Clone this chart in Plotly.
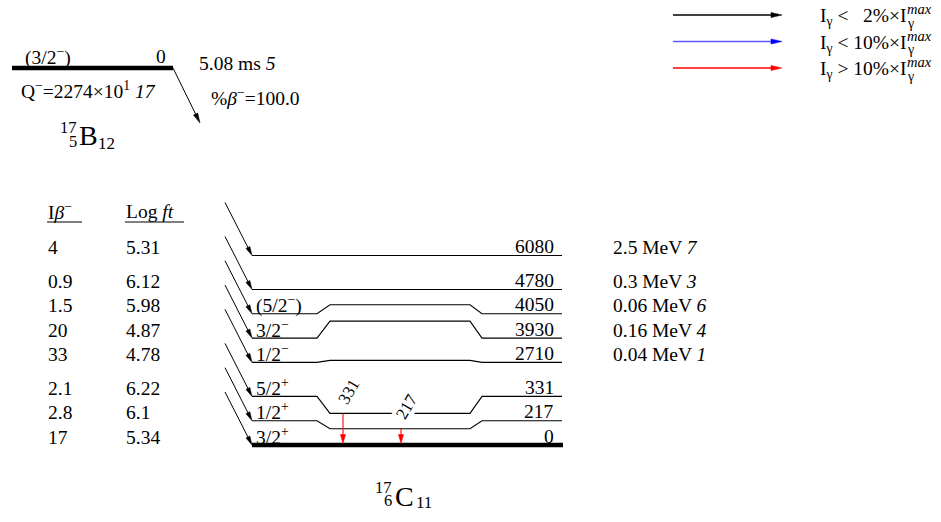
import math
import plotly.graph_objects as go

# ---------------- data ----------------
parent_prescript = ("17", "5")
parent_symbol = "B"
parent_neutrons = "12"
parent_spin = "(3/2<sup>−</sup>)"
parent_energy = "0"
parent_halflife = "5.08 ms <i>5</i>"
parent_q = "Q<sup>−</sup>=2274×10<sup>1</sup> <i>17</i>"
parent_branch = "%<i>β</i><sup>−</sup>=100.0"

daughter_prescript = ("17", "6")
daughter_symbol = "C"
daughter_neutrons = "11"

level_energy = [0, 217, 331, 2710, 3930, 4050, 4780, 6080]
level_label = ["0", "217", "331", "2710", "3930", "4050", "4780", "6080"]
level_spin = ["3/2<sup>+</sup>", "1/2<sup>+</sup>", "5/2<sup>+</sup>", "1/2<sup>−</sup>",
              "3/2<sup>−</sup>", "(5/2<sup>−</sup>)", "", ""]
level_width = ["", "", "", "0.04 MeV <i>1</i>", "0.16 MeV <i>4</i>",
               "0.06 MeV <i>6</i>", "0.3 MeV <i>3</i>", "2.5 MeV <i>7</i>"]
beta_intensity = ["17", "2.8", "2.1", "33", "20", "1.5", "0.9", "4"]
beta_logft = ["5.34", "6.1", "6.22", "4.78", "4.87", "5.98", "6.12", "5.31"]

gamma_label = ["331", "217"]
gamma_from = [331, 217]
gamma_to = [0, 0]
gamma_class = [2, 2]  # 0: <2%, 1: <10%, 2: >10% of max intensity

legend_text = ["I<sub>γ</sub> <\u00a0\u00a0\u00a02%×I",
               "I<sub>γ</sub> < 10%×I",
               "I<sub>γ</sub> > 10%×I"]

table_headers = ["I<i>β</i><sup>−</sup>", "Log <i>ft</i>"]

# ---------------- layout / style ----------------
W, H = 941, 522
FONT = "Liberation Serif, Times New Roman, serif"
FS = 19.5
class_line = ["black", "rgb(90,90,255)", "red"]
class_head = ["black", "blue", "red"]

Y0, ROW = 445.0, 24.3
level_slot = [0, 1, 2, 3.4, 4.4, 5.4, 6.4, 7.8]     # schematic row of each level
level_y = [Y0 - s * ROW for s in level_slot]
mid_shift = [0, 8, 17, -2, -17, -9, 0, 0]   # bend of the level line in the gamma zone
level_mid = [y + s for y, s in zip(level_y, mid_shift)]

LX0, LB0, LB1, LB2, LB3, LX1 = 252, 317, 330, 470, 482, 562
gamma_x = [343, 401]

fig = go.Figure()
shapes, annotations = [], []


def arrow(x0, y0, x1, y1, line_color, head_color=None, w=1.0, hl=9.0, hw=2.3):
    head_color = head_color or line_color
    d = math.hypot(x1 - x0, y1 - y0)
    ux, uy = (x1 - x0) / d, (y1 - y0) / d
    bx, by = x1 - ux * hl, y1 - uy * hl
    shapes.append(dict(type="line", x0=x0, y0=y0, x1=bx + ux, y1=by + uy,
                       line=dict(color=line_color, width=w)))
    px, py = -uy, ux
    path = (f"M {x1},{y1} L {bx + px * hw},{by + py * hw} "
            f"L {bx - px * hw},{by - py * hw} Z")
    shapes.append(dict(type="path", path=path, fillcolor=head_color,
                       line=dict(color=head_color, width=0.5)))


def txt(x, y, t, size=FS, xa="left", ya="middle", angle=0, bg=None):
    a = dict(x=x, y=y, xref="x", yref="y", text=t, showarrow=False,
             xanchor=xa, yanchor=ya, textangle=angle,
             font=dict(family=FONT, size=size, color="black"))
    if bg:
        a["bgcolor"] = bg
        a["borderpad"] = 0
    annotations.append(a)


# parent level
shapes.append(dict(type="line", x0=12, y0=68, x1=173, y1=68,
                   line=dict(color="black", width=4.5)))
txt(23, 56, parent_spin)
txt(168, 56, parent_energy, xa="right")
txt(197, 63, parent_halflife)
txt(19, 90, parent_q)
txt(209, 97, parent_branch)
arrow(173, 68, 200, 123, "black", hl=10, hw=2.4)
# parent nuclide label
txt(88, 135, parent_symbol, size=28, xa="center")
txt(79, 127, parent_prescript[0], size=16.5, xa="right")
txt(79, 141, parent_prescript[1], size=16.5, xa="right")
txt(96, 143, parent_neutrons, size=17)

# legend
for k in range(3):
    ly = 15 + k * 26.5
    arrow(673, ly, 782, ly, class_line[k], class_head[k], w=1.6, hl=11, hw=2.6)
    txt(909, ly + 2, legend_text[k], xa="right")
    txt(905, ly - 6, "<i>max</i>", size=14.5)
    txt(905, ly + 8, "γ", size=14)

# table headers
txt(46, 211, table_headers[0])
txt(124, 211, table_headers[1])
shapes.append(dict(type="line", x0=47, y0=222, x1=82, y1=222, line=dict(color="black", width=1)))
shapes.append(dict(type="line", x0=125, y0=222, x1=184, y1=222, line=dict(color="black", width=1)))

# levels
for i, e in enumerate(level_energy):
    ys, ym = level_y[i], level_mid[i]
    if e == 0:
        shapes.append(dict(type="line", x0=LX0, y0=ys, x1=LX1 + 1, y1=ys,
                           line=dict(color="black", width=4.5)))
    else:
        fig.add_trace(go.Scatter(
            x=[LX0, LB0, LB1, LB2, LB3, LX1], y=[ys, ys, ym, ym, ys, ys],
            mode="lines", line=dict(color="black", width=1.1),
            hoverinfo="skip", showlegend=False))
    txt(LX1 - 6, ys - 9, level_label[i], xa="right")
    if level_spin[i]:
        txt(254, ys - 9.5, level_spin[i])
    if level_width[i]:
        txt(611, ys - 8, level_width[i])
    txt(46, ys - 8, beta_intensity[i])
    txt(124, ys - 8, beta_logft[i])
    # beta feeding arrow
    arrow(LX0 - 27, ys - 53, LX0, ys, "black", hl=9, hw=2.2)

# gammas
for g in range(len(gamma_label)):
    i0 = level_energy.index(gamma_from[g])
    i1 = level_energy.index(gamma_to[g])
    x = gamma_x[g]
    arrow(x, level_mid[i0], x, level_mid[i1] - 1.5, class_line[gamma_class[g]],
          class_head[gamma_class[g]], w=1.1, hl=9, hw=2.6)
    txt(x + 6, level_mid[i0] - 22, gamma_label[g], size=17, xa="center",
        angle=-60, bg="white")

# daughter nuclide label
txt(404, 496, daughter_symbol, size=28, xa="center")
txt(394, 487, daughter_prescript[0], size=16.5, xa="right")
txt(394, 500, daughter_prescript[1], size=16.5, xa="right")
txt(414, 502, daughter_neutrons, size=17)

fig.update_layout(
    width=W, height=H, margin=dict(l=0, r=0, t=0, b=0),
    paper_bgcolor="white", plot_bgcolor="white",
    xaxis=dict(range=[0, W], visible=False, fixedrange=True),
    yaxis=dict(range=[H, 0], visible=False, fixedrange=True),
    shapes=shapes, annotations=annotations, showlegend=False,
)
fig.write_html("out.html", config={"displayModeBar": False},
               post_script="document.body.style.margin='0px';")
